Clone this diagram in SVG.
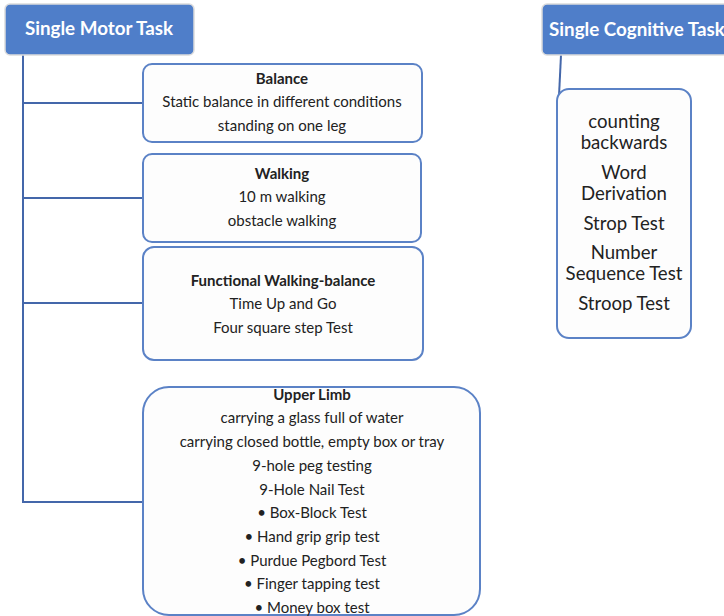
<svg xmlns="http://www.w3.org/2000/svg" width="724" height="616" viewBox="0 0 724 616">
<style>
.hdr{fill:#4f7ec9;stroke:#dcdcdc;stroke-width:1.5}
.box{fill:#fdfdfd;stroke:#5b82c6;stroke-width:2}
.ln{fill:none;stroke:#4467aa;stroke-width:2}
.ht{font-family:Lato,"Open Sans",sans-serif;font-weight:bold;font-size:18.8px;fill:#ffffff}
.t{font-family:Lato,"Liberation Sans",sans-serif;font-size:15px;fill:#222222;text-anchor:middle}
.b{font-weight:bold}
.c{font-family:Lato,"Liberation Sans",sans-serif;font-size:18.6px;fill:#222222;text-anchor:middle}
</style>
<rect width="724" height="616" fill="#ffffff"/>
<g id="connectors">
<path class="ln" d="M23 54 V502 H143 M23 103 H143 M23 198 H143 M23 303 H143"/>
<path class="ln" d="M561 55 L559 96"/>
</g>
<g id="motor-header">
<rect class="hdr" x="5" y="4" width="189" height="51" rx="5"/>
<text class="ht" x="99" y="35" text-anchor="middle">Single Motor Task</text>
</g>
<g id="cognitive-header">
<rect class="hdr" x="542" y="4" width="194" height="51" rx="5"/>
<text class="ht" x="549" y="36">Single Cognitive Task</text>
</g>
<g id="balance">
<rect class="box" x="143" y="64" width="279" height="78" rx="9"/>
<text class="t b" x="282" y="84">Balance</text>
<text class="t" x="282" y="107">Static balance in different conditions</text>
<text class="t" x="282" y="131">standing on one leg</text>
</g>
<g id="walking">
<rect class="box" x="143" y="154" width="278" height="88" rx="9"/>
<text class="t b" x="282" y="179">Walking</text>
<text class="t" x="282" y="202">10 m walking</text>
<text class="t" x="282" y="226">obstacle walking</text>
</g>
<g id="functional">
<rect class="box" x="143" y="247" width="280" height="113" rx="11"/>
<text class="t b" x="283" y="286">Functional Walking-balance</text>
<text class="t" x="283" y="309">Time Up and Go</text>
<text class="t" x="283" y="333">Four square step Test</text>
</g>
<g id="upper-limb">
<rect class="box" x="143" y="387" width="337" height="228" rx="26"/>
<text class="t b" x="312" y="400">Upper Limb</text>
<text class="t" x="312" y="423">carrying a glass full of water</text>
<text class="t" x="312" y="447">carrying closed bottle, empty box or tray</text>
<text class="t" x="312" y="471">9-hole peg testing</text>
<text class="t" x="312" y="495">9-Hole Nail Test</text>
<text class="t" x="312" y="518">• Box-Block Test</text>
<text class="t" x="312" y="542">• Hand grip grip test</text>
<text class="t" x="312" y="566">• Purdue Pegbord Test</text>
<text class="t" x="312" y="589">• Finger tapping test</text>
<text class="t" x="312" y="613">• Money box test</text>
</g>
<g id="cognitive">
<rect class="box" x="557" y="89" width="134" height="249" rx="12"/>
<text class="c" x="624" y="128">counting</text>
<text class="c" x="624" y="149">backwards</text>
<text class="c" x="624" y="179">Word</text>
<text class="c" x="624" y="200">Derivation</text>
<text class="c" x="624" y="230">Strop Test</text>
<text class="c" x="624" y="259">Number</text>
<text class="c" x="624" y="280">Sequence Test</text>
<text class="c" x="624" y="310">Stroop Test</text>
</g>
</svg>
